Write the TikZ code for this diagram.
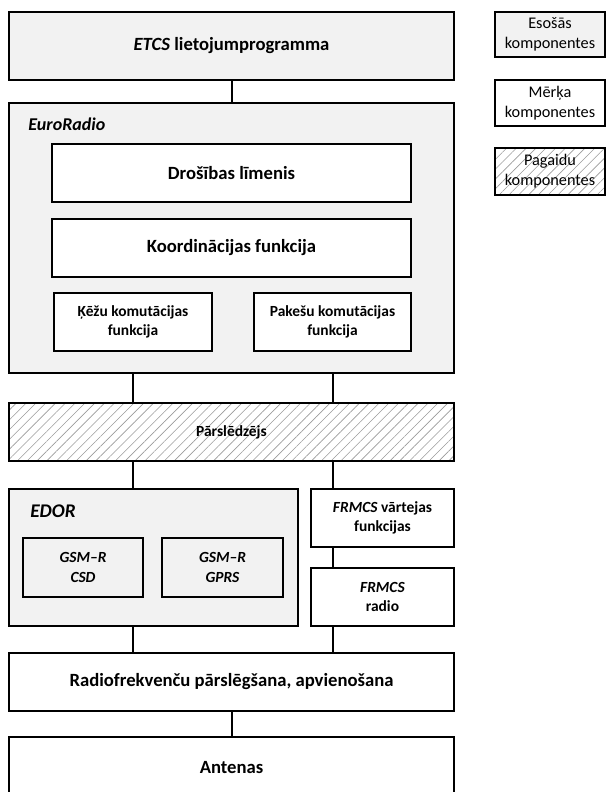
\documentclass[tikz,border=0pt]{standalone}
\usepackage{fontspec}
\setmainfont{Carlito}
\usetikzlibrary{patterns.meta}
\definecolor{boxgray}{HTML}{F2F2F2}
\definecolor{hatchgray}{HTML}{9A9A9A}
\tikzset{
  blk/.style 2 args={draw=black, line width=1.8pt, rectangle, align=center,
    minimum width=#1*0.75pt, minimum height=#2*0.75pt, inner sep=0pt},
  existing/.style={fill=boxgray},
  target/.style={fill=white},
  temporary/.style={pattern={Lines[angle=45,distance=5.2pt,line width=0.45pt]},
    pattern color=hatchgray},
  big/.style={font=\fontsize{14}{17}\selectfont\bfseries},
  mid/.style={font=\fontsize{14}{17}\selectfont\bfseries},
  small/.style={font=\fontsize{11.6}{14.5}\selectfont\bfseries},
  smallit/.style={font=\fontsize{11.6}{14.5}\selectfont\bfseries\itshape},
  legendtxt/.style={font=\fontsize{12.2}{15}\selectfont},
  grouplabel/.style={anchor=west, inner sep=0pt},
  link/.style={draw=black, line width=1.5pt}
}
\begin{document}
\begin{tikzpicture}[x=0.75pt, y=-0.75pt]
\useasboundingbox (0,0) rectangle (606,792);

% application layer
\node[blk={445}{68}, existing, big] (etcs) at (231.5,46) {\textit{ETCS} lietojumprogramma};

% EuroRadio group
\node[blk={445}{270}, existing] (euro) at (231.5,238) {};
\node[grouplabel, font=\fontsize{13.5}{16}\selectfont\bfseries\itshape] (eurolbl) at (28,124) {EuroRadio};
\node[blk={359}{58}, target, mid] (dros) at (231.5,173) {Drošības līmenis};
\node[blk={359}{58}, target, mid] (koord) at (231.5,248) {Koordinācijas funkcija};
\node[blk={158}{58}, target, small] (kezu) at (133,322) {Ķēžu komutācijas\\funkcija};
\node[blk={157}{58}, target, small] (pak) at (332.5,322) {Pakešu komutācijas\\funkcija};

% switch
\node[blk={445}{58}, temporary, small] (pars) at (231.5,432) {Pārslēdzējs};

% EDOR group
\node[blk={289}{137}, existing] (edor) at (153.5,557.5) {};
\node[grouplabel, font=\fontsize{14.5}{17}\selectfont\bfseries\itshape] (edorlbl) at (30,511) {EDOR};
\node[blk={120}{59}, existing, smallit] (csd) at (83,567.5) {GSM–R\\CSD};
\node[blk={121}{59}, existing, smallit] (gprs) at (222.5,567.5) {GSM–R\\GPRS};

% FRMCS path
\node[blk={143}{58}, target, small] (fgw) at (382.5,518) {\textit{FRMCS} vārtejas\\funkcijas};
\node[blk={143}{58}, target, small] (frad) at (382.5,597) {\textit{FRMCS}\\radio};

% radio front end
\node[blk={445}{58}, target, mid] (rf) at (231.5,682) {Radiofrekvenču pārslēgšana, apvienošana};
\node[blk={445}{62}, target, mid] (ant) at (231.5,768) {Antenas};

% legend
\node[blk={110}{45}, existing, legendtxt, line width=0.8pt] (lgA) at (550,34.5) {Esošās\\komponentes};
\node[blk={110}{46}, target, legendtxt, line width=0.8pt] (lgB) at (550,103) {Mērķa\\komponentes};
\node[blk={110}{47}, temporary, legendtxt, line width=0.8pt] (lgC) at (550,171.5) {Pagaidu\\komponentes};

% connectors
\draw[link] (etcs.south) -- (euro.north);
\draw[link] (kezu.south |- euro.south) -- (kezu.south |- pars.north);
\draw[link] (pak.south |- euro.south) -- (pak.south |- pars.north);
\draw[link] (kezu.south |- pars.south) -- (kezu.south |- edor.north);
\draw[link] (pak.south |- pars.south) -- (pak.south |- fgw.north);
\draw[link] (pak.south |- fgw.south) -- (pak.south |- frad.north);
\draw[link] (kezu.south |- edor.south) -- (kezu.south |- rf.north);
\draw[link] (pak.south |- frad.south) -- (pak.south |- rf.north);
\draw[link] (rf.south) -- (ant.north);
\end{tikzpicture}
\end{document}
